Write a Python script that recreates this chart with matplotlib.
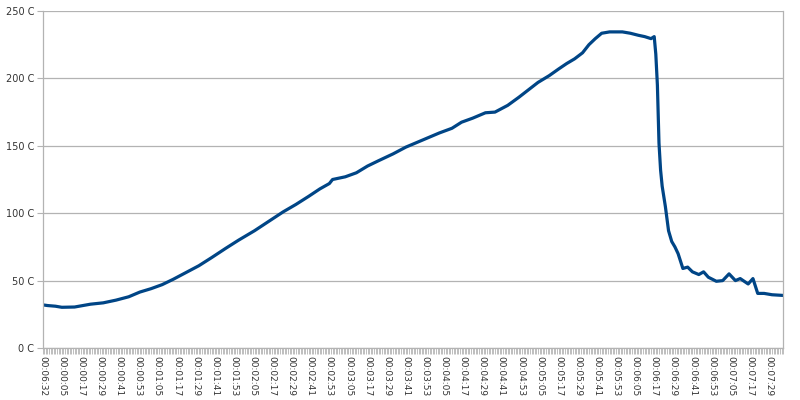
import matplotlib.pyplot as plt
from matplotlib.ticker import MultipleLocator, FuncFormatter

# sample number (one per second) and temperature
sample_idx = [0, 3, 8, 12, 20, 30, 38, 46, 54, 61, 68, 75, 82, 90, 98, 106,
              115, 123, 133, 142, 151, 159, 167, 174, 180, 182, 186, 190, 197,
              204, 211, 220, 228, 235, 243, 249, 257, 263, 270, 278, 284, 292,
              299, 305, 311, 318, 324, 329, 334, 339, 343, 347, 351, 356, 364,
              369, 374, 378, 382, 384, 385, 386, 387, 388, 389, 391, 393, 395,
              397, 399, 402, 405, 408, 412, 415, 418, 423, 427, 431, 435, 438,
              443, 446, 449, 453, 458, 465]
temp_c = [32, 31.5, 31, 30.2, 30.4, 32.5, 33.5, 35.5, 38, 41.5, 44, 47,
          51, 56, 61, 67, 74, 80, 87, 94, 101, 106.5, 112.5, 118, 122,
          125, 126, 127, 130, 135, 139, 144, 149, 152.5, 156.5, 159.5, 163,
          167.5, 170.5, 174.5, 175, 180, 186, 191.5, 197, 202, 207, 211, 214.5,
          219, 225, 229.5, 233.5, 234.5, 234.5, 233.5, 232, 231, 229.5, 231,
          218, 195, 152, 132, 120, 105, 87, 79, 75, 70, 59, 60, 56.5, 54.5, 56.5,
          52.5, 49.5, 50, 55, 50, 51.5, 47.5, 51.5, 40.5, 40.5, 39.5, 39]

tick_labels = ["00:06:32", "00:00:05", "00:00:17", "00:00:29", "00:00:41",
               "00:00:53", "00:01:05", "00:01:17", "00:01:29", "00:01:41",
               "00:01:53", "00:02:05", "00:02:17", "00:02:29", "00:02:41",
               "00:02:53", "00:03:05", "00:03:17", "00:03:29", "00:03:41",
               "00:03:53", "00:04:05", "00:04:17", "00:04:29", "00:04:41",
               "00:04:53", "00:05:05", "00:05:17", "00:05:29", "00:05:41",
               "00:05:53", "00:06:05", "00:06:17", "00:06:29", "00:06:41",
               "00:06:53", "00:07:05", "00:07:17", "00:07:29"]
y_ticks = [0, 50, 100, 150, 200, 250]

grey = "#b3b3b3"

fig = plt.figure(figsize=(8, 4), dpi=100)
ax = fig.add_axes([0.0534, 0.13, 0.9256, 0.8425])

ax.plot(sample_idx, temp_c, color="#004586", linewidth=2.3, solid_joinstyle="round")

ax.set_xlim(0, 465)
ax.set_ylim(0, 250)

ax.set_xticks([12 * i for i in range(len(tick_labels))])
ax.set_xticklabels(tick_labels, rotation=-90, fontsize=6.5, color="#333333")
ax.xaxis.set_minor_locator(MultipleLocator(1))
ax.tick_params(axis="x", which="both", direction="out", length=4, width=0.6,
               color=grey, pad=2)

ax.set_yticks(y_ticks)
ax.yaxis.set_major_formatter(FuncFormatter(lambda v, p: f"{v:.0f} C"))
ax.tick_params(axis="y", direction="out", length=4, width=0.8, color=grey,
               labelsize=7, labelcolor="#333333", pad=2)

ax.grid(axis="y", color=grey, linewidth=0.9)
ax.set_axisbelow(True)
for side in ["left", "right", "bottom"]:
    ax.spines[side].set_color(grey)
    ax.spines[side].set_linewidth(0.9)
ax.spines["top"].set_visible(False)

fig.savefig("out.png", dpi=100)
